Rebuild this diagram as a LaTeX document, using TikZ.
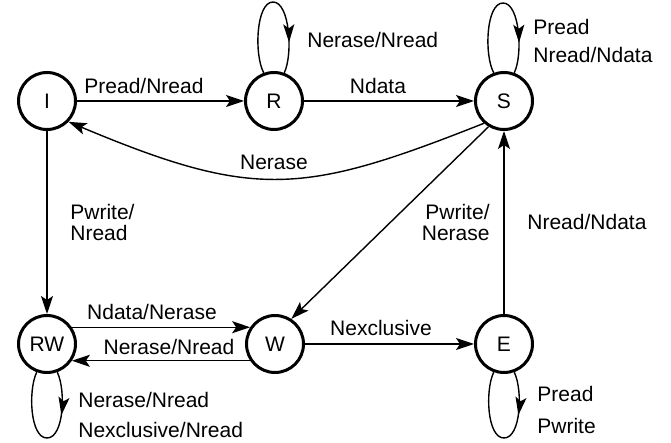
\documentclass[tikz,border=0pt]{standalone}
\usepackage{fontspec}
\setmainfont{Liberation Sans}
\usetikzlibrary{arrows.meta,decorations.markings}
\begin{document}
\begin{tikzpicture}[x=0.5pt,y=-0.5pt,
  font=\fontsize{10.5}{10.5}\selectfont,
  state/.style={circle,draw,line width=1.5pt,minimum size=28.5pt,inner sep=0pt},
  tr/.style={line width=0.7pt,-{Stealth[length=9pt,width=6pt,inset=2pt]}},
  lbl/.style={inner sep=0pt},
  loopR/.style={line width=0.7pt, postaction={decorate},
    decoration={markings, mark=at position #1 with {\arrow{Stealth[length=9pt,width=5.5pt,inset=2pt]}}}}
]
\useasboundingbox (0,0) rectangle (671,443);
% states
\node[state] (I) at (47,101) {I};
\node[state] (R) at (274,101) {R};
\node[state] (S) at (504,101) {S};
\node[state] (RW) at (47,344) {RW};
\node[state] (W) at (275,344) {W};
\node[state] (E) at (504,344) {E};
% transitions
\draw[tr] (I) -- (R);
\draw[tr] (R) -- (S);
\draw[tr] (S.228) .. controls (303,195) and (255,200) .. (I.-44);
\draw[tr] (I) -- (RW);
\draw[tr] (S.239) -- (W.57);
\draw[tr] (E) -- (S);
\draw[tr] (RW.34) -- (W.146);
\draw[tr] (W.-146) -- (RW.-34);
\draw[tr] (W) -- (E);
% self loops
\draw[loopR=0.80] (R.110) .. controls (254,55) and (256,2) .. (273,2)
  .. controls (290,2) and (293,55) .. (R.70);
\draw[loopR=0.80] (S.110) .. controls (484,55) and (486,3) .. (503,3)
  .. controls (520,3) and (523,55) .. (S.70);
\draw[loopR=0.30] (RW.-70) .. controls (66,390) and (64,438) .. (47,438)
  .. controls (30,438) and (28,390) .. (RW.-110);
\draw[loopR=0.30] (E.-70) .. controls (523,390) and (521,438) .. (504,438)
  .. controls (487,438) and (485,390) .. (E.-110);
% labels
\node[lbl] (l1) at (144,86) {Pread/Nread};
\node[lbl,anchor=west] (l2) at (307,40) {Nerase/Nread};
\node[lbl] (l3) at (378,86) {Ndata};
\node[lbl,anchor=west] (l4) at (533,27) {Pread};
\node[lbl,anchor=west] (l5) at (533,55) {Nread/Ndata};
\node[lbl] (l6) at (274,162) {Nerase};
\node[lbl,anchor=west,align=left] (l7) at (70,222) {Pwrite/\\Nread};
\node[lbl,anchor=east,align=right] (l8) at (490,222) {Pwrite/\\Nerase};
\node[lbl,anchor=west] (l9) at (527,222) {Nread/Ndata};
\node[lbl] (l10) at (152,312) {Ndata/Nerase};
\node[lbl] (l11) at (169,347) {Nerase/Nread};
\node[lbl] (l12) at (381,328) {Nexclusive};
\node[lbl,anchor=west] (l13) at (78,400) {Nerase/Nread};
\node[lbl,anchor=west] (l14) at (78,430) {Nexclusive/Nread};
\node[lbl,anchor=west] (l15) at (537,394) {Pread};
\node[lbl,anchor=west] (l16) at (537,426) {Pwrite};
\end{tikzpicture}
\end{document}
